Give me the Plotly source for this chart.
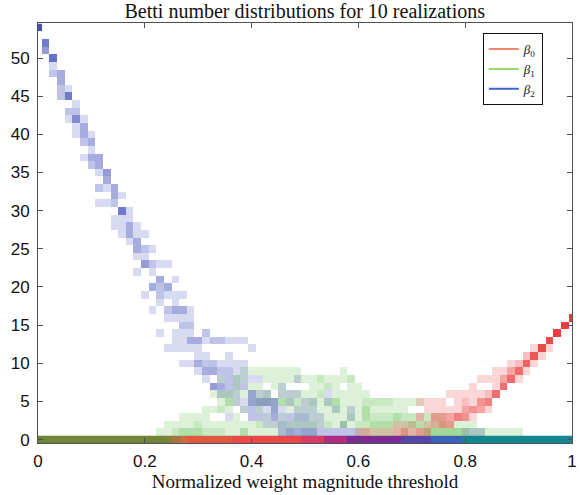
import plotly.graph_objects as go

# ---------------- data ----------------
N_BINS = 71                 # threshold samples 0 .. 1
THRESHOLD_STEP = 1 / 70     # spacing between threshold samples
MAX_BETTI = 54

# counts (out of 10 realizations): bin index -> [(betti value, count), ...]
BETA2_CELLS = {
    0: [(54, 10)],
    1: [(52, 6), (51, 4)],
    2: [(50, 7), (49, 1), (48, 2)],
    3: [(48, 3), (47, 3), (46, 2), (45, 2)],
    4: [(46, 1), (45, 6), (43, 2), (42, 1)],
    5: [(44, 1), (43, 2), (42, 5), (41, 1), (40, 1)],
    6: [(42, 1), (41, 3), (40, 3), (39, 2), (37, 1)],
    7: [(40, 1), (39, 3), (38, 1), (37, 3), (36, 2)],
    8: [(37, 3), (36, 3), (35, 1), (33, 2), (31, 1)],
    9: [(35, 4), (34, 3), (33, 1), (31, 1)],
    10: [(33, 3), (32, 3), (31, 2), (29, 1), (28, 1)],
    11: [(32, 1), (30, 6), (29, 1), (28, 1), (27, 1)],
    12: [(30, 1), (29, 1), (28, 3), (27, 3), (26, 1)],
    13: [(28, 1), (27, 1), (26, 3), (25, 3), (24, 1), (22, 1)],
    14: [(27, 1), (25, 2), (24, 1), (23, 4), (19, 1)],
    15: [(25, 1), (23, 2), (22, 1), (20, 3), (17, 1)],
    16: [(23, 1), (21, 3), (20, 2), (19, 2), (18, 1), (14, 1)],
    17: [(23, 1), (20, 3), (19, 1), (17, 2), (16, 1), (12, 1)],
    18: [(21, 1), (19, 1), (18, 1), (17, 3), (16, 1), (14, 1), (13, 1), (12, 1)],
    19: [(19, 1), (17, 3), (16, 1), (15, 2), (14, 1), (13, 1), (12, 1), (10, 1)],
    20: [(17, 1), (16, 1), (15, 2), (14, 1), (13, 3), (12, 1), (10, 1)],
    21: [(13, 3), (12, 1), (11, 1), (10, 3), (9, 1)],
    22: [(14, 2), (13, 1), (11, 1), (10, 2), (9, 3), (8, 1)],
    23: [(13, 2), (10, 2), (9, 3), (7, 4)],
    24: [(13, 2), (10, 1), (9, 2), (8, 1), (7, 3), (6, 1)],
    25: [(13, 1), (11, 1), (10, 1), (9, 2), (8, 2), (7, 2), (6, 1), (3, 1)],
    26: [(13, 1), (10, 1), (9, 1), (8, 1), (7, 1), (6, 1), (5, 1)],
    27: [(13, 1), (10, 1), (9, 1), (8, 1), (7, 2), (5, 1), (4, 1)],
    28: [(12, 1), (8, 1), (6, 3), (5, 3), (4, 2), (3, 2)],
    29: [(8, 1), (6, 1), (5, 3), (4, 1), (3, 2)],
    30: [(6, 1), (5, 3), (4, 1), (3, 1), (2, 1)],
    31: [(5, 3), (4, 3), (3, 3), (2, 1)],
    32: [(7, 1), (6, 1), (4, 1), (3, 1), (2, 2), (1, 2)],
    33: [(6, 1), (5, 1), (3, 2), (2, 1), (1, 3)],
    34: [(8, 1), (6, 1), (4, 1), (3, 2), (2, 1), (1, 3)],
    35: [(5, 1), (4, 1), (3, 2), (2, 1), (1, 3)],
    36: [(5, 1), (4, 1), (3, 1), (2, 1), (1, 3)],
    37: [(3, 1), (2, 1), (1, 2)],
    38: [(6, 1), (5, 1), (1, 2)],
    39: [(4, 1), (1, 2)],
    40: [(2, 1), (1, 2)],
    41: [(4, 1), (3, 1), (1, 2)],
    42: [(1, 1)],
    56: [(1, 1)],
    57: [(1, 1)],
    58: [(1, 1)],
}

BETA1_CELLS = {
    16: [(1, 1)],
    17: [(1, 1), (2, 1)],
    18: [(1, 2), (2, 1)],
    19: [(1, 3), (2, 1), (3, 1)],
    20: [(1, 3), (2, 1), (3, 1)],
    21: [(1, 3), (2, 2), (3, 1)],
    22: [(1, 2), (2, 1), (3, 1), (4, 1)],
    23: [(1, 2), (2, 1), (4, 1), (6, 1)],
    24: [(1, 2), (2, 1), (4, 2), (5, 1), (6, 2), (8, 1)],
    25: [(1, 1), (2, 1), (4, 1), (5, 3), (6, 2)],
    26: [(1, 1), (2, 1), (3, 1), (5, 1), (6, 1), (7, 2), (8, 2)],
    27: [(1, 3), (2, 1), (4, 1), (6, 1), (8, 1), (9, 1)],
    28: [(1, 1), (2, 1), (5, 1), (6, 1), (7, 1), (9, 1)],
    29: [(1, 1), (2, 2), (4, 1), (5, 2), (6, 1), (7, 1), (9, 1)],
    30: [(1, 1), (2, 1), (3, 1), (5, 2), (6, 2), (8, 1), (9, 1)],
    31: [(1, 1), (2, 1), (4, 1), (5, 1), (7, 1), (8, 1), (9, 1)],
    32: [(1, 1), (2, 1), (3, 1), (5, 3), (6, 1), (7, 1), (8, 1), (9, 1)],
    33: [(1, 1), (2, 2), (4, 1), (5, 2), (6, 1), (8, 1), (9, 1)],
    34: [(2, 2), (3, 1), (4, 1), (5, 2), (6, 1), (8, 1), (9, 1)],
    35: [(1, 1), (2, 2), (3, 1), (4, 1), (5, 1), (6, 1), (8, 1)],
    36: [(1, 1), (2, 2), (3, 1), (4, 1), (5, 2), (6, 1), (7, 1), (8, 1)],
    37: [(2, 1), (3, 1), (4, 1), (5, 1), (6, 2), (7, 1), (8, 2)],
    38: [(2, 2), (3, 1), (4, 1), (5, 2), (7, 2), (8, 1)],
    39: [(2, 1), (3, 1), (4, 2), (5, 3), (6, 1), (7, 1), (8, 1)],
    40: [(2, 3), (3, 1), (4, 1), (5, 1), (6, 1), (8, 1), (9, 1)],
    41: [(2, 1), (3, 2), (4, 1), (5, 1), (6, 1), (7, 1), (8, 2)],
    42: [(1, 1), (2, 2), (3, 1), (4, 1), (5, 1), (6, 1), (7, 1)],
    43: [(1, 2), (2, 2), (3, 3), (4, 3), (5, 2), (6, 1)],
    44: [(1, 2), (2, 3), (3, 2), (4, 1), (5, 2)],
    45: [(1, 2), (2, 3), (3, 2), (4, 1), (5, 2)],
    46: [(1, 2), (2, 3), (3, 2), (4, 1), (5, 2)],
    47: [(1, 1), (2, 2), (3, 3), (4, 1), (5, 1)],
    48: [(1, 2), (2, 2), (3, 2), (4, 1), (5, 1)],
    49: [(1, 1), (2, 3), (3, 2), (5, 1)],
    50: [(1, 1), (2, 3), (3, 1), (5, 1)],
    51: [(1, 4), (2, 2), (3, 2)],
    52: [(1, 4), (2, 2), (3, 1)],
    53: [(1, 4), (2, 2), (3, 1)],
    54: [(1, 4), (2, 1)],
    55: [(1, 4), (2, 1)],
    56: [(1, 3), (2, 1)],
    57: [(1, 2), (2, 1)],
    58: [(1, 2)],
    59: [(1, 1)],
    60: [(1, 1)],
    61: [(1, 1)],
    62: [(1, 1)],
    63: [(1, 1)],
}

BETA0_CELLS = {
    42: [(1, 1)],
    43: [(1, 2)],
    44: [(1, 1)],
    45: [(1, 1)],
    46: [(1, 1)],
    47: [(1, 2), (2, 1)],
    48: [(1, 3), (2, 1)],
    49: [(1, 2), (2, 1)],
    50: [(1, 3), (3, 2), (5, 1)],
    51: [(1, 2), (2, 1), (4, 1), (5, 1)],
    52: [(2, 2), (3, 3), (4, 1), (5, 1)],
    53: [(2, 3), (3, 3), (4, 1), (5, 1)],
    54: [(2, 3), (3, 3), (4, 1), (6, 1)],
    55: [(3, 5), (4, 1), (5, 1), (6, 1)],
    56: [(3, 4), (4, 3), (5, 2), (6, 1)],
    57: [(3, 1), (4, 4), (5, 1), (6, 1), (7, 1)],
    58: [(4, 3), (5, 4), (6, 1), (8, 1)],
    59: [(4, 1), (5, 5), (6, 2), (8, 1)],
    60: [(6, 6), (7, 1), (8, 1), (9, 1)],
    61: [(7, 6), (8, 3), (9, 1)],
    62: [(8, 6), (9, 3), (10, 1)],
    63: [(8, 1), (9, 6), (10, 2)],
    64: [(9, 1), (10, 7), (11, 2)],
    65: [(10, 1), (11, 8), (12, 1)],
    66: [(11, 1), (12, 9)],
    67: [(12, 1), (13, 9)],
    68: [(14, 10)],
    69: [(15, 10)],
    70: [(16, 10)],
}

# coloured strip along Betti = 0: (first bin, last bin, colour)
STRIP_SEGMENTS = [
    (0, 16, "#6f8538"),
    (17, 17, "#82803a"),
    (18, 18, "#a67440"),
    (19, 19, "#c86a44"),
    (20, 25, "#e0583f"),
    (26, 34, "#ea4848"),
    (35, 37, "#d83c62"),
    (38, 40, "#b02c82"),
    (41, 47, "#7c2a96"),
    (48, 51, "#5446a6"),
    (52, 55, "#3a62b8"),
    (56, 70, "#12878f"),
]

SERIES = [
    ("β<sub>1</sub>", BETA1_CELLS, (85, 185, 65), "rgb(150,215,110)"),
    ("β<sub>2</sub>", BETA2_CELLS, (60, 70, 185), "rgb(60,100,200)"),
    ("β<sub>0</sub>", BETA0_CELLS, (236, 52, 52), "rgb(245,135,115)"),
]
LEGEND_ORDER = [2, 0, 1]  # β0, β1, β2

X_TICKS = [0, 0.2, 0.4, 0.6, 0.8, 1]
Y_TICKS = [0, 5, 10, 15, 20, 25, 30, 35, 40, 45, 50]

TITLE = "Betti number distributions for 10 realizations"
X_LABEL = "Normalized weight magnitude threshold"

# ---------------- figure ----------------
def build_grid(cells):
    z = [[None] * N_BINS for _ in range(MAX_BETTI + 1)]
    for b, pairs in cells.items():
        for yv, c in pairs:
            z[yv][b] = (z[yv][b] or 0) + c
    return z

fig = go.Figure()

# strip at Betti = 0
strip_z = [None] * N_BINS
nseg = len(STRIP_SEGMENTS)
strip_scale = []
for k, (b0, b1, col) in enumerate(STRIP_SEGMENTS):
    for b in range(b0, b1 + 1):
        strip_z[b] = k
    strip_scale.append([k / nseg, col])
    strip_scale.append([(k + 1) / nseg, col])
fig.add_trace(go.Heatmap(
    z=[strip_z], x0=0, dx=THRESHOLD_STEP, y=[0],
    colorscale=strip_scale, zmin=-0.5, zmax=nseg - 0.5,
    showscale=False, hoverinfo="skip", zsmooth=False,
))

ALPHA_STOPS = [(0.0, 0.10), (0.1, 0.2), (0.3, 0.45), (0.6, 0.72), (1.0, 0.95)]
for name, cells, (r, g, b), _ in SERIES:
    fig.add_trace(go.Heatmap(
        z=build_grid(cells), x0=0, dx=THRESHOLD_STEP, y0=0, dy=1,
        colorscale=[[s, f"rgba({r},{g},{b},{a})"] for s, a in ALPHA_STOPS],
        zmin=0, zmax=10, showscale=False, hoverinfo="skip", zsmooth=False,
    ))

for idx in LEGEND_ORDER:
    name, _, _, lc = SERIES[idx]
    fig.add_trace(go.Scatter(
        x=[None], y=[None], mode="lines", name=f"<i>{name[0]}</i>{name[1:]}",
        line=dict(color=lc, width=2), showlegend=True,
    ))

axis_common = dict(
    showline=True, linecolor="#505050", linewidth=1, mirror="ticks",
    ticks="inside", ticklen=5, tickcolor="#505050", showgrid=False, zeroline=False,
    automargin=False,
    tickfont=dict(family="Liberation Sans, Arial, sans-serif", size=17, color="#111"),
)

fig.update_layout(
    width=585, height=495,
    margin=dict(l=38, r=13, t=23, b=52),
    paper_bgcolor="white", plot_bgcolor="white",
    title=dict(text=TITLE, x=0.521, xanchor="center", y=0.978, yanchor="middle",
               font=dict(family="Liberation Serif, Times New Roman, serif", size=20, color="#111")),
    xaxis=dict(range=[0, 1], tickvals=X_TICKS, ticktext=[f"{v:g}" for v in X_TICKS],
               ticklabelstandoff=3,
               title=dict(text=X_LABEL, standoff=2,
                          font=dict(family="Liberation Serif, Times New Roman, serif", size=19, color="#111")),
               **axis_common),
    yaxis=dict(range=[-0.45, 54.6], tickvals=Y_TICKS, ticklabelstandoff=4, **axis_common),
    legend=dict(x=0.833, y=0.976, xanchor="left", yanchor="top",
                bgcolor="white", bordercolor="#111", borderwidth=1,
                font=dict(family="Liberation Serif, Times New Roman, serif", size=13, color="#111"),
                tracegroupgap=0, itemwidth=30),
    showlegend=True,
)

fig.write_html(
    "out.html",
    config={"displayModeBar": False},
    post_script="document.body.style.margin='0px';document.body.style.overflow='hidden';",
)
